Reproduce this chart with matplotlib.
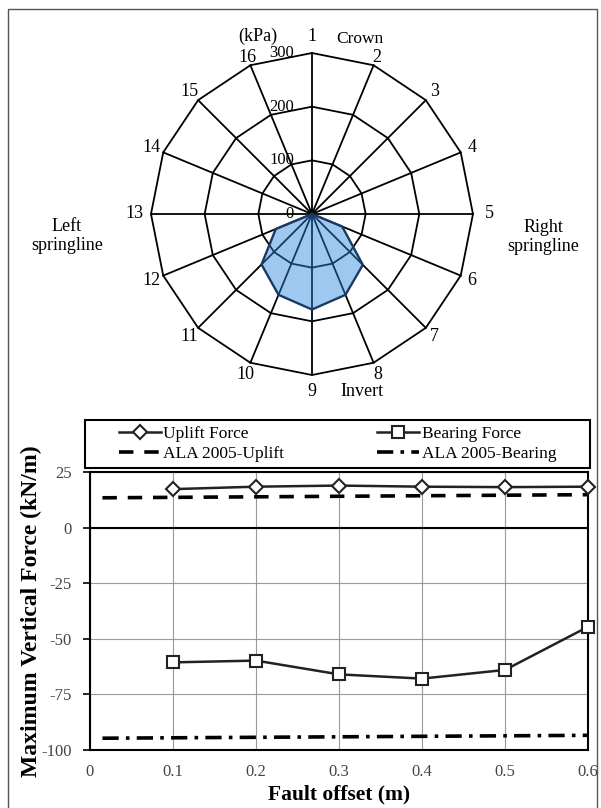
import matplotlib
matplotlib.use("Agg")
import matplotlib.pyplot as plt
import numpy as np
from matplotlib.patches import Rectangle

plt.rcParams['font.family'] = ['Liberation Serif', 'DejaVu Serif']
plt.rcParams['axes.unicode_minus'] = False

# radar chart: soil pressure around the pipe (kPa), points 1..16 clockwise from crown
points = [str(i) for i in range(1, 17)]
pressure = [0, 0, 0, 0, 0, 61, 134, 163, 178, 163, 133, 73, 0, 0, 0, 0]
rings = [0, 100, 200, 300]

# line chart: maximum vertical force vs fault offset
offset = [0.1, 0.2, 0.3, 0.4, 0.5, 0.6]
uplift = [17.3, 18.4, 18.9, 18.4, 18.2, 18.4]
bearing = [-60.6, -59.8, -66.0, -67.9, -64.0, -44.6]
ala_x = [0.015, 0.6]
ala_uplift = [13.4, 14.8]
ala_bearing = [-94.7, -93.4]
yticks = [-100, -75, -50, -25, 0, 25]
xticks = [0, 0.1, 0.2, 0.3, 0.4, 0.5, 0.6]

fig = plt.figure(figsize=(6.01, 8.08), dpi=100)
fig.add_artist(Rectangle((8 / 601, -0.01), 589 / 601, 1 - 9 / 808 + 0.01,
                         transform=fig.transFigure, fill=False,
                         edgecolor='#555555', lw=1.0))

# ---- radar part ----
ax1 = fig.add_axes([0.2512, 0.5359, 0.5358, 0.3985], projection='polar')
ax1.set_theta_zero_location('N')
ax1.set_theta_direction(-1)
ax1.set_ylim(0, 300)
ax1.set_axis_off()

theta = np.deg2rad(np.arange(len(points)) * 360.0 / len(points))
theta_closed = np.append(theta, theta[0])

for r in rings[1:]:
    ax1.plot(theta_closed, [r] * len(theta_closed), color='black', lw=1.3,
             clip_on=False, zorder=2)
for t in theta:
    ax1.plot([t, t], [0, rings[-1]], color='black', lw=1.3, clip_on=False, zorder=2)

vals = np.append(pressure, pressure[0])
ax1.fill(theta_closed, vals, facecolor=(0.17, 0.52, 0.87), alpha=0.45, zorder=3)
ax1.plot(theta_closed, vals, color='#1a3a63', lw=1.7, zorder=4)

for r in rings:
    ax1.annotate(str(r), xy=(0, r), xytext=(-13, 0), textcoords='offset points',
                 ha='right', va='center', fontsize=12)
for t, lab in zip(theta, points):
    if abs(np.sin(2 * t)) < 0.01:
        rlab = 330      # the four main directions
    elif np.cos(t) > 0.9:
        rlab = 316      # next to crown, keep clear of the "Crown" text
    else:
        rlab = 323
    ax1.text(t, rlab, lab, ha='center', va='center', fontsize=13)

fig.text(360 / 601, 1 - 39 / 808, 'Crown', ha='center', va='center', fontsize=12.5)
fig.text(258 / 601, 1 - 36 / 808, '(kPa)', ha='center', va='center', fontsize=13)
fig.text(362 / 601, 1 - 392 / 808, 'Invert', ha='center', va='center', fontsize=13)
fig.text(67 / 601, 1 - 236 / 808, 'Left\nspringline', ha='center', va='center',
         fontsize=13, linespacing=1.1)
fig.text(543 / 601, 1 - 237 / 808, 'Right\nspringline', ha='center', va='center',
         fontsize=13, linespacing=1.1)

# ---- force vs offset ----
ax2 = fig.add_axes([90 / 601, 1 - 750 / 808, 498 / 601, 278 / 808])
ax2.set_xlim(0, 0.6)
ax2.set_ylim(-100, 25)
ax2.grid(True, color='#999999', lw=0.8)
ax2.axhline(0, color='black', lw=1.5, zorder=2)

l1, = ax2.plot(offset, uplift, color='#222222', lw=1.8, marker='D', markersize=7,
               markerfacecolor='white', markeredgecolor='#222222', markeredgewidth=1.5,
               label='Uplift Force', zorder=4, clip_on=False)
l2, = ax2.plot(offset, bearing, color='#222222', lw=1.8, marker='s', markersize=8,
               markerfacecolor='white', markeredgecolor='#222222', markeredgewidth=1.5,
               label='Bearing Force', zorder=4, clip_on=False)
l3, = ax2.plot(ala_x, ala_uplift, color='black', lw=2.6, linestyle=(0, (4, 3)),
               label='ALA 2005-Uplift', zorder=3)
l4, = ax2.plot(ala_x, ala_bearing, color='black', lw=2.6, linestyle=(0, (4.5, 2, 1, 2)),
               label='ALA 2005-Bearing', zorder=3)

ax2.set_yticks(yticks)
ax2.set_yticklabels([str(v) for v in yticks])
ax2.set_xticks(xticks)
ax2.set_xticklabels(['0' if v == 0 else f'{v:.1f}' for v in xticks])
ax2.tick_params(axis='y', direction='out', length=5, width=1.2, pad=8,
                labelsize=12, labelcolor='#444444')
ax2.tick_params(axis='x', length=0, pad=10, labelsize=12, labelcolor='#444444')
for s in ax2.spines.values():
    s.set_linewidth(1.5)
    s.set_color('black')

ax2.set_xlabel('Fault offset (m)', fontsize=15.5, fontweight='bold')
ax2.xaxis.set_label_coords(0.5, -0.125)
ax2.set_ylabel('Maximum Vertical Force (kN/m)', fontsize=17, fontweight='bold')
ax2.yaxis.set_label_coords(-0.096, 0.5)

ax2.legend(handles=[l1, l3, l2, l4], ncol=2, mode='expand', loc='center',
           bbox_to_anchor=(0.058, 1.02, 0.878, 0.162), frameon=False,
           fontsize=12.5, handlelength=2.4, handletextpad=0.15, labelspacing=0.25,
           borderpad=0, borderaxespad=0)
ax2.add_patch(Rectangle((-0.010, 1.014), 1.014, 0.173, transform=ax2.transAxes,
                        fill=False, edgecolor='black', lw=1.5, clip_on=False))

fig.savefig('out.png', dpi=100)
